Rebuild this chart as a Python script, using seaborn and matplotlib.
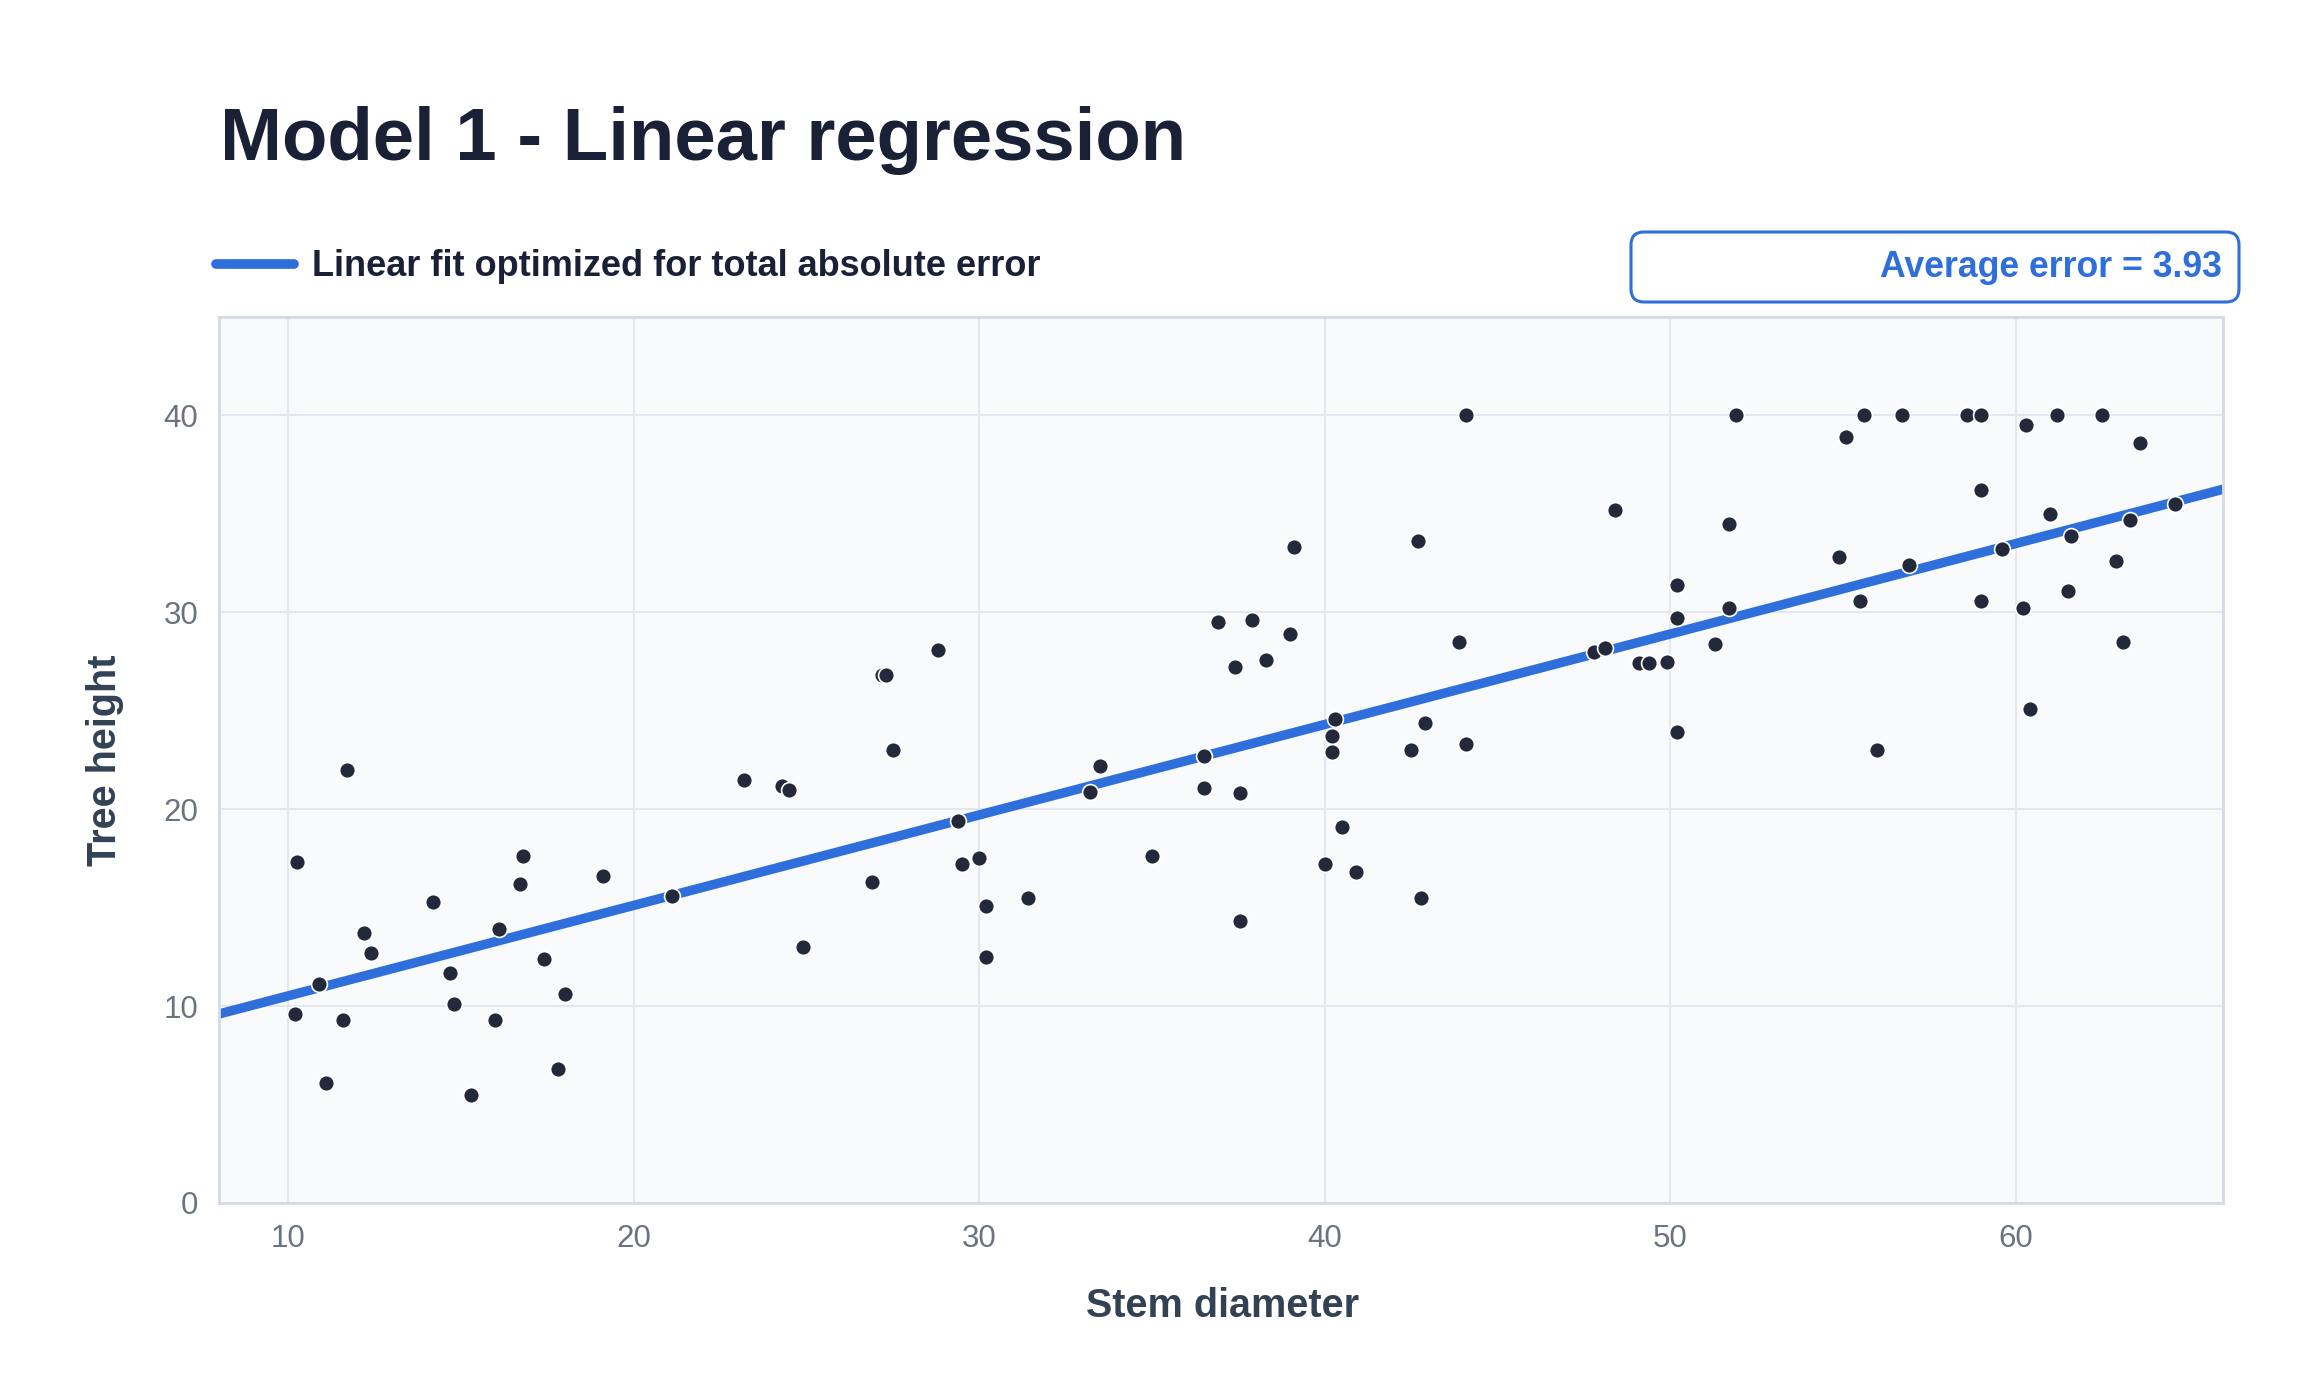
import matplotlib
matplotlib.use("Agg")
import matplotlib.pyplot as plt
import seaborn as sns
import pandas as pd
from matplotlib.patches import FancyBboxPatch
from matplotlib.transforms import IdentityTransform

# ---------------- data ----------------
stem_diameter = [
    10.26, 10.2, 10.9, 11.1, 11.7, 11.6, 12.2, 12.4, 14.2, 14.7,
    14.8, 15.3, 16.1, 16.0, 16.7, 16.8, 17.4, 17.8, 18.0, 19.1,
    21.1, 23.2, 24.3, 24.5, 24.9, 26.9, 27.2, 27.3, 27.5, 28.8,
    29.4, 29.5, 30.0, 30.2, 30.2, 31.4, 33.2, 33.5, 35.0, 36.5,
    36.5, 36.9, 37.4, 37.55, 37.55, 37.9, 38.3, 39.0, 39.1, 40.0,
    40.2, 40.2, 40.3, 40.5, 40.9, 42.5, 42.7, 42.8, 42.9, 43.9,
    44.1, 44.1, 47.8, 48.1, 48.4, 49.1, 49.4, 49.9, 50.2, 50.2,
    50.2, 51.3, 51.7, 51.7, 51.9, 54.9, 55.1, 55.5, 55.6, 56.0,
    56.7, 56.9, 58.6, 59.0, 59.0, 59.0, 59.6, 60.2, 60.3, 60.4,
    61.0, 61.2, 61.5, 61.6, 62.5, 62.9, 63.1, 63.3, 63.6, 64.6,
]
tree_height = [
    17.3, 9.6, 11.1, 6.1, 22.0, 9.3, 13.7, 12.7, 15.3, 11.7,
    10.1, 5.5, 13.9, 9.3, 16.2, 17.6, 12.4, 6.8, 10.6, 16.6,
    15.6, 21.5, 21.2, 21.0, 13.0, 16.3, 26.8, 26.8, 23.0, 28.1,
    19.4, 17.2, 17.5, 15.1, 12.5, 15.5, 20.9, 22.2, 17.6, 22.7,
    21.1, 29.5, 27.2, 20.8, 14.3, 29.6, 27.6, 28.9, 33.3, 17.2,
    23.7, 22.9, 24.6, 19.1, 16.8, 23.0, 33.6, 15.5, 24.4, 28.5,
    40.0, 23.3, 28.0, 28.2, 35.2, 27.45, 27.45, 27.5, 31.4, 29.7,
    23.9, 28.4, 30.2, 34.5, 40.0, 32.8, 38.9, 30.6, 40.0, 23.0,
    40.0, 32.4, 40.0, 40.0, 36.2, 30.6, 33.2, 30.2, 39.5, 25.1,
    35.0, 40.0, 31.1, 33.9, 40.0, 32.6, 28.5, 34.7, 38.6, 35.5,
]
fit_x = [8.0, 66.0]
fit_y = [9.6, 36.25]

x_ticks = [10, 20, 30, 40, 50, 60]
y_ticks = [0, 10, 20, 30, 40]

title_text = "Model 1 - Linear regression"
legend_label = "Linear fit optimized for total absolute error"
error_text = "Average error = 3.93"
x_label = "Stem diameter"
y_label = "Tree height"

# ---------------- style ----------------
sns.set_theme(style="white")
plt.rcParams["font.family"] = ["Liberation Sans", "DejaVu Sans"]

BLUE = "#2f6fdb"
DOT = "#23283a"
TITLE_C = "#1a2035"
LABEL_C = "#334155"
TICK_C = "#6b7280"
GRID_C = "#e3e7ef"
SPINE_C = "#d5dae4"
BG = "#f8fafc"

W, H = 2304, 1382
fig = plt.figure(figsize=(W / 100, H / 100), dpi=100)
fig.patch.set_facecolor("white")

ax_l, ax_r, ax_t, ax_b = 219, 2223, 317, 1203
ax = fig.add_axes([ax_l / W, 1 - ax_b / H, (ax_r - ax_l) / W, (ax_b - ax_t) / H])
ax.set_facecolor(BG)

fit_df = pd.DataFrame({"x": fit_x, "y": fit_y})
pts_df = pd.DataFrame({"x": stem_diameter, "y": tree_height})

sns.lineplot(data=fit_df, x="x", y="y", ax=ax, color=BLUE, linewidth=6.8,
             label=legend_label, zorder=2, solid_capstyle="butt")
sns.scatterplot(data=pts_df, x="x", y="y", ax=ax, color=DOT, s=130,
                edgecolor="white", linewidth=1.2, zorder=3, legend=False)

ax.set_xlim(8, 66)
ax.set_ylim(0, 45)
ax.set_xticks(x_ticks)
ax.set_yticks(y_ticks)
ax.grid(True, color=GRID_C, linewidth=1.5)
ax.set_axisbelow(True)
for s in ax.spines.values():
    s.set_color(SPINE_C)
    s.set_linewidth(2)
ax.tick_params(axis="both", length=0, labelsize=22.5, labelcolor=TICK_C, pad=15)

ax.set_xlabel(x_label, fontsize=28.5, fontweight="bold", color=LABEL_C, va="center")
ax.set_ylabel(y_label, fontsize=28.5, fontweight="bold", color=LABEL_C, va="center")
ax.xaxis.set_label_coords(0.501, -(1306 - ax_b) / (ax_b - ax_t))
ax.yaxis.set_label_coords(-(ax_l - 105) / (ax_r - ax_l), 0.5)

# legend
leg = ax.legend(loc="center left", bbox_to_anchor=(216 / W, 1 - 267 / H),
                bbox_transform=fig.transFigure, frameon=False, fontsize=26,
                handlelength=2.15, handletextpad=0.5, borderpad=0, borderaxespad=0)
for t in leg.get_texts():
    t.set_fontweight("bold")
    t.set_color(TITLE_C)
for h in leg.get_lines():
    h.set_linewidth(7)
    h.set_solid_capstyle("round")

# title
fig.text(220 / W, 1 - 160 / H, title_text, fontsize=53.6, fontweight="bold",
         color=TITLE_C, ha="left", va="baseline")

# average error box
box = FancyBboxPatch((1631, H - 302), 608, 70,
                     boxstyle="round,pad=0,rounding_size=13",
                     transform=IdentityTransform(), facecolor="white",
                     edgecolor=BLUE, linewidth=2.2)
fig.add_artist(box)
fig.text(2222 / W, 1 - 277 / H, error_text, fontsize=25.7, fontweight="bold",
         color=BLUE, ha="right", va="baseline")

fig.savefig("out.png", dpi=100, facecolor="white")
